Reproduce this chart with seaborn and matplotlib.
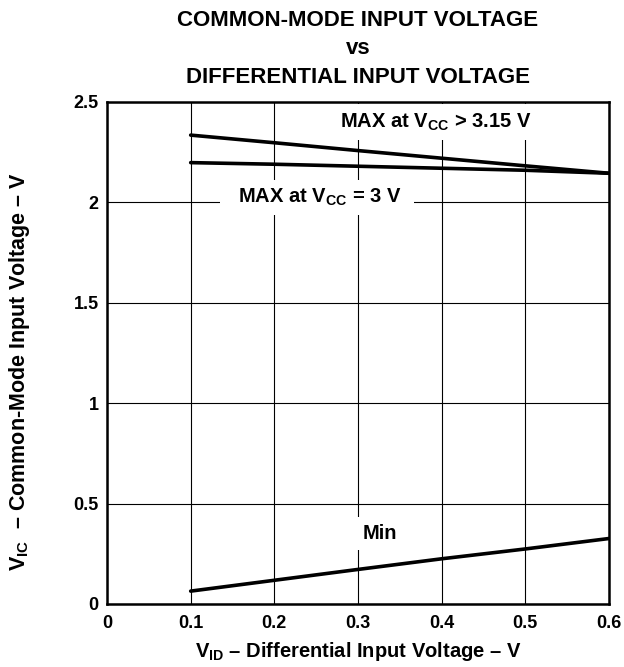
import numpy as np
import pandas as pd
import matplotlib
matplotlib.use("Agg")
import matplotlib.pyplot as plt
import seaborn as sns

# data
vid = [0.1, 0.2, 0.3, 0.4, 0.5, 0.6]
max_hi = [2.335, 2.297, 2.258, 2.22, 2.182, 2.145]   # MAX at VCC > 3.15 V
max_3v = [2.198, 2.19, 2.18, 2.17, 2.16, 2.145]      # MAX at VCC = 3 V
vic_min = [0.064, 0.118, 0.172, 0.225, 0.274, 0.326]  # Min

x_ticks = [0, 0.1, 0.2, 0.3, 0.4, 0.5, 0.6]
x_tick_labels = ["0", "0.1", "0.2", "0.3", "0.4", "0.5", "0.6"]
y_ticks = [0, 0.5, 1, 1.5, 2, 2.5]
y_tick_labels = ["0", "0.5", "1", "1.5", "2", "2.5"]

sns.set_style("white")
plt.rcParams["font.family"] = ["Liberation Sans", "DejaVu Sans"]
plt.rcParams["font.weight"] = "bold"
plt.rcParams["text.color"] = "black"
plt.rcParams["axes.labelcolor"] = "black"
plt.rcParams["xtick.color"] = "black"
plt.rcParams["ytick.color"] = "black"
plt.rcParams["mathtext.fontset"] = "custom"
plt.rcParams["mathtext.rm"] = "Liberation Sans:bold"
plt.rcParams["mathtext.bf"] = "Liberation Sans:bold"
plt.rcParams["mathtext.it"] = "Liberation Sans:bold"
plt.rcParams["mathtext.default"] = "rm"

df = pd.DataFrame({
    "vid": vid * 3,
    "vic": max_hi + max_3v + vic_min,
    "curve": ["hi"] * 6 + ["3v"] * 6 + ["min"] * 6,
})

fig = plt.figure(figsize=(6.24, 6.67), dpi=100)
ax = fig.add_axes([0.1715, 0.0945, 0.8045, 0.7526])

for name in ["hi", "3v", "min"]:
    sns.lineplot(data=df[df["curve"] == name], x="vid", y="vic", color="black",
                 linewidth=2.6, ax=ax, legend=False, zorder=3)

ax.set_xlim(0, 0.6)
ax.set_ylim(0, 2.5)
ax.set_xticks(x_ticks)
ax.set_xticklabels(x_tick_labels)
ax.set_yticks(y_ticks)
ax.set_yticklabels(y_tick_labels)
ax.tick_params(length=0, labelsize=13, labelcolor="black")
ax.tick_params(axis="y", pad=6)
ax.tick_params(axis="x", pad=8)
for lab in ax.get_xticklabels() + ax.get_yticklabels():
    lab.set_fontweight("bold")

ax.grid(True, color="black", linewidth=0.8, zorder=1)
for s in ax.spines.values():
    s.set_color("black")
    s.set_linewidth(1.8)

box = dict(facecolor="white", edgecolor="none", boxstyle="square,pad=0.35")
ax.text(0.39, 2.40, r"  MAX at V$_{CC}$ > 3.15 V  ", ha="center", va="center",
        fontsize=14.5, fontweight="bold", color="black", bbox=box, zorder=4)
ax.text(0.251, 2.025, r"  MAX at V$_{CC}$ = 3 V  ", ha="center", va="center",
        fontsize=14.5, fontweight="bold", color="black", bbox=box, zorder=4)
ax.text(0.326, 0.352, "Min", ha="center", va="center",
        fontsize=14.5, fontweight="bold", color="black", bbox=box, zorder=4)

ax.set_xlabel(r"V$_{ID}$ – Differential Input Voltage – V", fontsize=14.5,
              fontweight="bold", labelpad=6)
ax.set_ylabel(r"V$_{IC}$  – Common-Mode Input Voltage – V", fontsize=15.5,
              fontweight="bold")
ax.yaxis.set_label_coords(-0.15, 0.462)
ax.set_title("COMMON-MODE INPUT VOLTAGE\nvs\nDIFFERENTIAL INPUT VOLTAGE",
             fontsize=16, fontweight="bold", linespacing=1.45, pad=14)

fig.savefig("out.png", dpi=100)
